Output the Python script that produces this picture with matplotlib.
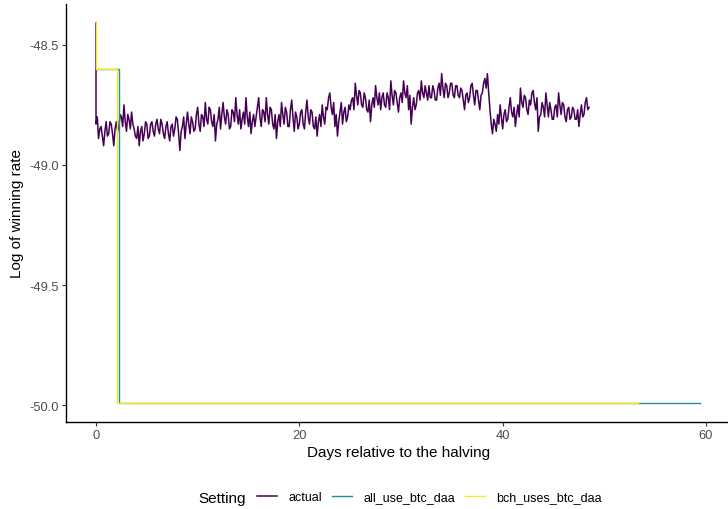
import numpy as np
import matplotlib
matplotlib.use("Agg")
import matplotlib.pyplot as plt

plt.rcParams['font.family'] = ['Liberation Sans', 'DejaVu Sans']

# log winning rate of the actual chain, one reading every 0.125 days after the halving
actual_start = -48.41
actual_values = [
    -48.83, -48.80, -48.89, -48.85, -48.84, -48.88, -48.92, -48.86,
    -48.82, -48.88, -48.87, -48.82, -48.83, -48.87, -48.92, -48.85,
    -48.82, -48.86, -48.84, -48.79, -48.80, -48.84, -48.75, -48.82,
    -48.86, -48.79, -48.81, -48.85, -48.78, -48.83, -48.85, -48.88,
    -48.89, -48.84, -48.92, -48.86, -48.84, -48.90, -48.87, -48.82,
    -48.83, -48.89, -48.88, -48.83, -48.82, -48.86, -48.88, -48.83,
    -48.81, -48.85, -48.87, -48.81, -48.83, -48.87, -48.89, -48.84,
    -48.82, -48.87, -48.90, -48.84, -48.83, -48.88, -48.85, -48.80,
    -48.81, -48.87, -48.94, -48.86, -48.84, -48.80, -48.89, -48.83,
    -48.78, -48.83, -48.87, -48.80, -48.82, -48.86, -48.85, -48.79,
    -48.76, -48.83, -48.86, -48.79, -48.80, -48.84, -48.74, -48.81,
    -48.83, -48.76, -48.77, -48.82, -48.84, -48.79, -48.90, -48.83,
    -48.81, -48.76, -48.85, -48.79, -48.74, -48.80, -48.83, -48.77,
    -48.79, -48.85, -48.84, -48.77, -48.78, -48.82, -48.72, -48.79,
    -48.83, -48.77, -48.85, -48.81, -48.78, -48.83, -48.72, -48.80,
    -48.84, -48.78, -48.87, -48.82, -48.79, -48.84, -48.80, -48.76,
    -48.72, -48.80, -48.84, -48.77, -48.78, -48.82, -48.72, -48.79,
    -48.83, -48.76, -48.77, -48.83, -48.85, -48.79, -48.89, -48.82,
    -48.79, -48.84, -48.74, -48.79, -48.83, -48.76, -48.78, -48.84,
    -48.84, -48.77, -48.73, -48.80, -48.86, -48.78, -48.80, -48.85,
    -48.83, -48.78, -48.77, -48.83, -48.85, -48.78, -48.73, -48.80,
    -48.83, -48.77, -48.78, -48.84, -48.85, -48.80, -48.88, -48.82,
    -48.79, -48.84, -48.75, -48.80, -48.83, -48.76, -48.77, -48.72,
    -48.70, -48.76, -48.79, -48.74, -48.84, -48.79, -48.88, -48.82,
    -48.78, -48.74, -48.83, -48.78, -48.76, -48.82, -48.80, -48.75,
    -48.77, -48.73, -48.72, -48.77, -48.66, -48.71, -48.75, -48.69,
    -48.70, -48.75, -48.76, -48.70, -48.72, -48.77, -48.78, -48.73,
    -48.82, -48.75, -48.72, -48.76, -48.67, -48.72, -48.75, -48.70,
    -48.77, -48.72, -48.70, -48.75, -48.76, -48.70, -48.72, -48.77,
    -48.65, -48.71, -48.75, -48.69, -48.70, -48.74, -48.78, -48.72,
    -48.70, -48.74, -48.65, -48.70, -48.72, -48.67, -48.77, -48.71,
    -48.83, -48.76, -48.72, -48.77, -48.75, -48.70, -48.69, -48.73,
    -48.65, -48.70, -48.72, -48.67, -48.70, -48.73, -48.67, -48.72,
    -48.72, -48.67, -48.69, -48.73, -48.73, -48.68, -48.66, -48.71,
    -48.62, -48.68, -48.72, -48.66, -48.67, -48.72, -48.70, -48.66,
    -48.66, -48.71, -48.72, -48.67, -48.67, -48.71, -48.72, -48.68,
    -48.69, -48.73, -48.77, -48.71, -48.70, -48.74, -48.72, -48.67,
    -48.66, -48.71, -48.75, -48.69, -48.69, -48.73, -48.77, -48.71,
    -48.70, -48.66, -48.64, -48.68, -48.62, -48.70, -48.77, -48.83,
    -48.87, -48.81, -48.83, -48.86, -48.79, -48.83, -48.75, -48.80,
    -48.85, -48.79, -48.77, -48.82, -48.81, -48.76, -48.72, -48.78,
    -48.80, -48.76, -48.84, -48.79, -48.75, -48.80, -48.68, -48.74,
    -48.76, -48.71, -48.72, -48.77, -48.79, -48.73, -48.75, -48.70,
    -48.69, -48.74, -48.77, -48.72, -48.86, -48.80, -48.79, -48.74,
    -48.76, -48.80, -48.70, -48.75, -48.80, -48.74, -48.77, -48.81,
    -48.81, -48.76, -48.75, -48.80, -48.70, -48.75, -48.79, -48.74,
    -48.75, -48.80, -48.82, -48.77, -48.76, -48.81, -48.80, -48.76,
    -48.77, -48.81, -48.81, -48.77, -48.84, -48.79, -48.75, -48.80,
    -48.79, -48.74, -48.72, -48.77, -48.76,
]
actual_step = 0.125

# simulated settings (step functions)
all_use_days = [0, 2.25, 59.4]
all_use_values = [-48.60, -49.99, -49.99]
bch_uses_days = [0, 0, 2.1, 53.3]
bch_uses_values = [-48.41, -48.60, -49.99, -49.99]

setting_names = ['actual', 'all_use_btc_daa', 'bch_uses_btc_daa']
colors = ['#440154', '#21908C', '#FDE725']

fig = plt.figure(figsize=(7.28, 5.10), dpi=100)
# x: 0 -> 96px, 60 -> 706px ; y: -48.5 -> 46px, -50 -> 405px
ax = fig.add_axes([65.8 / 728, 1 - 423 / 510, 664.6 / 728, (423 - 5) / 510])

actual_days = np.concatenate([[0.0], np.arange(len(actual_values)) * actual_step])
actual_y = np.concatenate([[actual_start], actual_values])

ax.plot(actual_days, actual_y, color=colors[0], lw=1.1, label=setting_names[0])
ax.plot(all_use_days, all_use_values, color=colors[1], lw=1.0,
        drawstyle='steps-post', label=setting_names[1])
ax.plot(bch_uses_days, bch_uses_values, color=colors[2], lw=1.0,
        drawstyle='steps-post', label=setting_names[2])

ax.set_xlim(-2.97, 62.4)
ax.set_ylim(-50.07, -48.33)
ax.set_xticks([0, 20, 40, 60])
ax.set_yticks([-48.5, -49.0, -49.5, -50.0])
ax.set_yticklabels(['-48.5', '-49.0', '-49.5', '-50.0'])

for side in ['top', 'right']:
    ax.spines[side].set_visible(False)
for side in ['left', 'bottom']:
    ax.spines[side].set_linewidth(1.0)
    ax.spines[side].set_color('black')
ax.tick_params(axis='both', length=3, width=0.8, color='#333333',
               labelcolor='#4D4D4D', labelsize=9.3, pad=2)

ax.set_xlabel('Days relative to the halving', fontsize=11, labelpad=3)
ax.set_ylabel('Log of winning rate', fontsize=11, labelpad=4)

fig.text(198 / 728, 1 - 499 / 510, 'Setting', fontsize=11, va='center', ha='left')
handles, labels = ax.get_legend_handles_labels()
fig.legend(handles, labels, ncol=3, loc='center left',
           bbox_to_anchor=(257 / 728, 1 - 498 / 510), frameon=False,
           fontsize=9, handlelength=1.6, handletextpad=0.9, columnspacing=0.8,
           borderaxespad=0, borderpad=0)

fig.savefig('out.png', dpi=100)
